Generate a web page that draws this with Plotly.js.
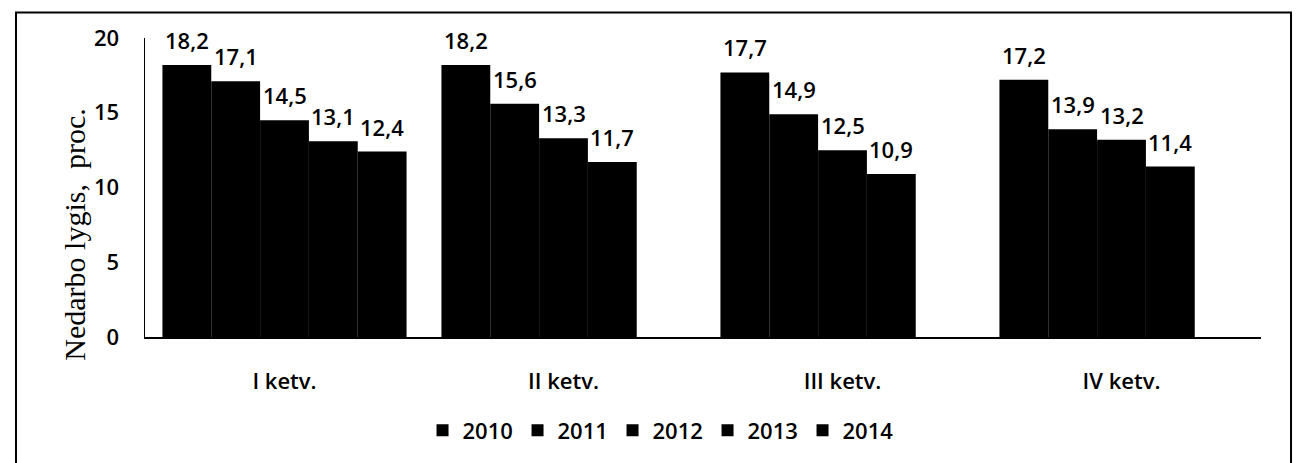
<!DOCTYPE html>
<html>
<head>
<meta charset="utf-8">
<script src="https://cdn.plot.ly/plotly-3.0.1.min.js"></script>
<style>
html,body{margin:0;padding:0;background:#fff;}
#chart{width:1300px;height:463px;}
</style>
</head>
<body>
<div id="chart"></div>
<script>
const categories = ["I ketv.", "II ketv.", "III ketv.", "IV ketv."];
const seriesNames = ["2010", "2011", "2012", "2013", "2014"];
const v2010 = [18.2, 18.2, 17.7, 17.2];
const v2011 = [17.1, 15.6, 14.9, 13.9];
const v2012 = [14.5, 13.3, 12.5, 13.2];
const v2013 = [13.1, 11.7, 10.9, 11.4];
const v2014 = [12.4, null, null, null];
const yTicks = [0, 5, 10, 15, 20];
const yTitle = "Nedarbo lygis,  proc.";
const seriesValues = [v2010, v2011, v2012, v2013, v2014];

const labelFont = {family: "Open Sans", size: 22, weight: 600, color: "#000"};

const plotW = 1116, bargap = 0.125;
const slotW = plotW / categories.length * (1 - bargap) / seriesNames.length;

const traces = seriesNames.map((name, i) => ({
  type: "bar",
  name: name,
  x: categories,
  y: seriesValues[i],
  marker: {color: "#000", line: {width: 0}},
  hoverinfo: "skip"
}));

const annotations = [];
seriesValues.forEach((vals, i) => {
  vals.forEach((v, j) => {
    if (v === null) return;
    annotations.push({
      x: categories[j], y: v, xref: "x", yref: "y",
      text: v.toFixed(1).replace(".", ","),
      showarrow: false, xanchor: "center", yanchor: "bottom",
      xshift: (i - (seriesNames.length - 1) / 2) * slotW,
      yshift: 8,
      font: labelFont
    });
  });
});
annotations.push({
  text: yTitle, xref: "paper", yref: "paper",
  x: (75 - 145) / 1116, y: (342 - 238) / 304,
  xanchor: "center", yanchor: "middle", textangle: -90, showarrow: false,
  font: {family: "Liberation Serif", size: 30, color: "#000"}
});

const layout = {
  width: 1300,
  height: 463,
  margin: {l: 145, r: 39, t: 38, b: 121},
  paper_bgcolor: "#fff",
  plot_bgcolor: "#fff",
  barmode: "group",
  bargap: bargap,
  bargroupgap: 0,
  showlegend: true,
  legend: {
    orientation: "h",
    x: 0.4615, xanchor: "center",
    y: -0.3125, yanchor: "middle",
    font: labelFont,
    itemwidth: 30,
    entrywidth: 50,
    entrywidthmode: "pixels",
    traceorder: "normal"
  },
  xaxis: {
    showline: true, linecolor: "#000", linewidth: 1.5,
    ticks: "", showgrid: false, zeroline: false,
    tickfont: labelFont,
    ticklabelstandoff: 24
  },
  yaxis: {
    range: [0, 20],
    tickvals: yTicks,
    ticktext: yTicks.map(String),
    showline: true, linecolor: "#000", linewidth: 1.5,
    ticks: "", showgrid: false, zeroline: false,
    tickfont: labelFont,
    ticklabelstandoff: 20
  },
  annotations: annotations,
  shapes: [{
    type: "rect", xref: "paper", yref: "paper",
    x0: -0.1156, x1: 1.0269, y0: -0.45, y1: 1.0855,
    line: {color: "#000", width: 2}, fillcolor: "rgba(0,0,0,0)", layer: "above"
  }]
};

Plotly.newPlot("chart", traces, layout, {displayModeBar: false, staticPlot: true});
</script>
</body>
</html>
